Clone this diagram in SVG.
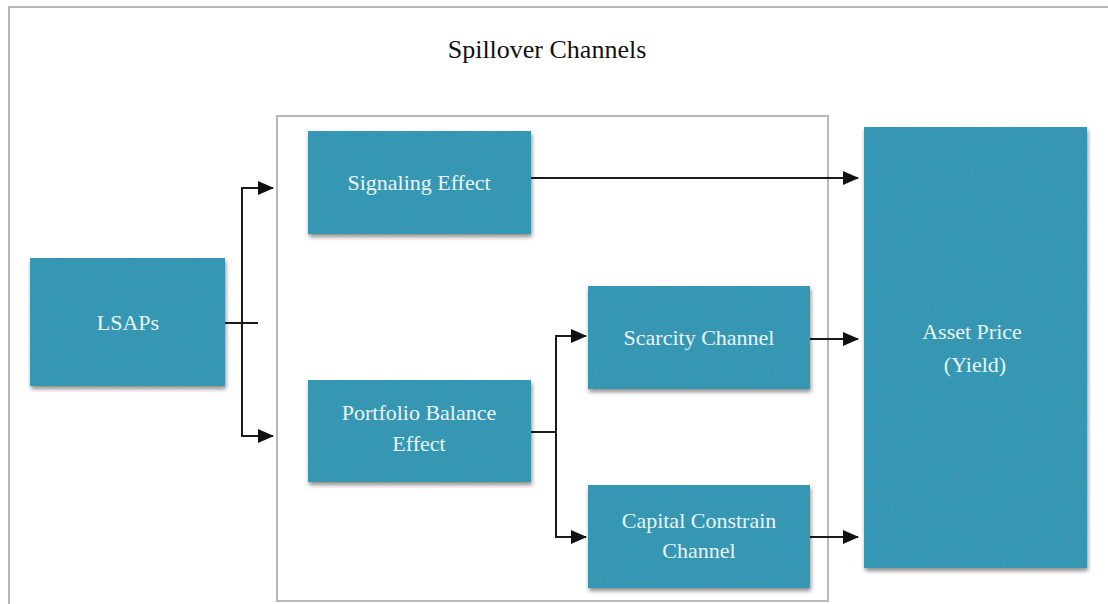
<svg xmlns="http://www.w3.org/2000/svg" width="1108" height="604" viewBox="0 0 1108 604">
  <defs>
    <!-- speckled teal fill with a soft drop shadow -->
    <filter id="grain" x="-5%" y="-5%" width="112%" height="115%">
      <feTurbulence type="fractalNoise" baseFrequency="0.85" numOctaves="2" seed="3" result="noise"/>
      <feColorMatrix in="noise" type="matrix" values="0 0 0 0 0.05  0 0 0 0 0.28  0 0 0 0 0.4  0 0 0 -2 1.15" result="speck"/>
      <feComposite in="speck" in2="SourceGraphic" operator="in" result="speckIn"/>
      <feMerge result="tex">
        <feMergeNode in="SourceGraphic"/>
        <feMergeNode in="speckIn"/>
      </feMerge>
      <feGaussianBlur in="SourceAlpha" stdDeviation="2" result="blur"/>
      <feOffset in="blur" dx="1" dy="3" result="off"/>
      <feComponentTransfer in="off" result="shadow">
        <feFuncA type="linear" slope="0.45"/>
      </feComponentTransfer>
      <feMerge>
        <feMergeNode in="shadow"/>
        <feMergeNode in="tex"/>
      </feMerge>
    </filter>
    <marker id="arrow" viewBox="0 0 16 14" refX="15" refY="7" markerWidth="16" markerHeight="14" markerUnits="userSpaceOnUse" orient="auto">
      <path d="M0,0 L16,7 L0,14 Z" fill="#111"/>
    </marker>
  </defs>
  <style>
    .frame { fill: none; stroke: #b8b8b8; stroke-width: 2; }
    .box { fill: #3599b6; filter: url(#grain); }
    .lbl { font-family: "Liberation Serif", "Times New Roman", serif; font-size: 22px; fill: #e9f6f6; text-anchor: middle; }
    .title { font-family: "Liberation Serif", "Times New Roman", serif; font-size: 26px; fill: #111; text-anchor: middle; }
    .wire { fill: none; stroke: #1a1a1a; stroke-width: 2; }
  </style>

  <rect width="1108" height="604" fill="#ffffff"/>

  <!-- outer frame (open at right and bottom) -->
  <path class="frame" d="M9,604 V7 H1108"/>
  <!-- channel group frame -->
  <rect class="frame" x="277" y="116" width="551" height="485"/>

  <text class="title" x="547" y="58">Spillover Channels</text>

  <g id="connectors">
    <path class="wire" d="M225,323 H258"/>
    <path class="wire" d="M242,188 V436"/>
    <path class="wire" d="M241,188 H273" marker-end="url(#arrow)"/>
    <path class="wire" d="M241,436 H273" marker-end="url(#arrow)"/>
    <path class="wire" d="M531,178 H858" marker-end="url(#arrow)"/>
    <path class="wire" d="M531,432 H556"/>
    <path class="wire" d="M556,336 V537"/>
    <path class="wire" d="M555,336 H586" marker-end="url(#arrow)"/>
    <path class="wire" d="M555,537 H586" marker-end="url(#arrow)"/>
    <path class="wire" d="M810,339 H858" marker-end="url(#arrow)"/>
    <path class="wire" d="M810,537 H858" marker-end="url(#arrow)"/>
  </g>

  <g id="lsaps">
    <rect class="box" x="30" y="258" width="195" height="128"/>
    <text class="lbl" x="128" y="330">LSAPs</text>
  </g>

  <g id="signaling">
    <rect class="box" x="308" y="131" width="223" height="103"/>
    <text class="lbl" x="419" y="190">Signaling  Effect</text>
  </g>

  <g id="portfolio">
    <rect class="box" x="308" y="380" width="223" height="102"/>
    <text class="lbl" x="419" y="420">Portfolio Balance</text>
    <text class="lbl" x="419" y="451">Effect</text>
  </g>

  <g id="scarcity">
    <rect class="box" x="588" y="286" width="222" height="103"/>
    <text class="lbl" x="699" y="345">Scarcity  Channel</text>
  </g>

  <g id="capital">
    <rect class="box" x="588" y="485" width="222" height="103"/>
    <text class="lbl" x="699" y="528">Capital Constrain</text>
    <text class="lbl" x="699" y="558">Channel</text>
  </g>

  <g id="asset-price">
    <rect class="box" x="864" y="127" width="223" height="441"/>
    <text class="lbl" x="972" y="339">Asset Price</text>
    <text class="lbl" x="975" y="372">(Yield)</text>
  </g>
</svg>
